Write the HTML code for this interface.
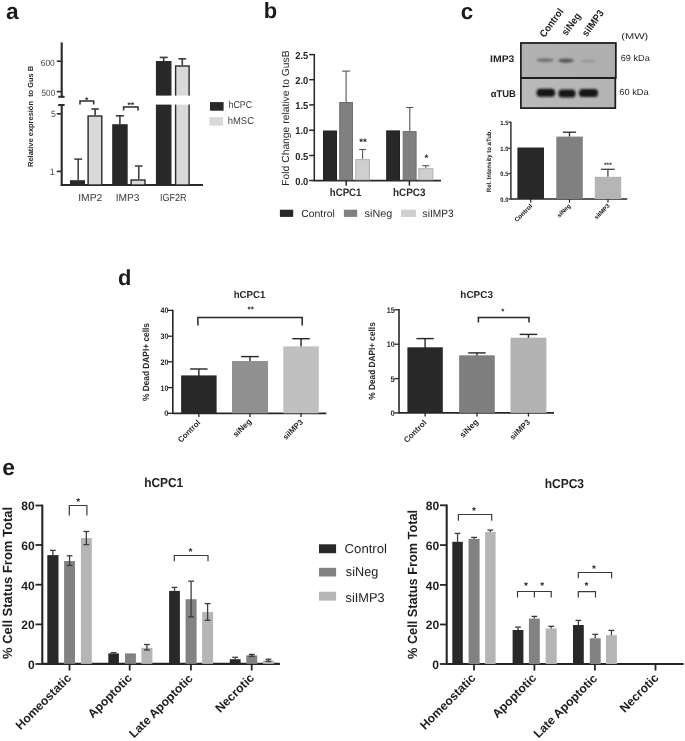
<!DOCTYPE html><html><head><meta charset="utf-8"><title>Figure</title><style>html,body{margin:0;padding:0;background:#fff;}svg{display:block;text-rendering:geometricPrecision;}</style></head><body>
<svg width="685" height="741" viewBox="0 0 685 741">
<rect width="685" height="741" fill="#fff"/>
<text x="5.95" y="19.25" font-family="'Liberation Sans', Arial, sans-serif" font-size="22.73" font-weight="bold" text-anchor="start" fill="#1c1c1c">a</text>
<text x="263.70" y="17.98" font-family="'Liberation Sans', Arial, sans-serif" font-size="21.93" font-weight="bold" text-anchor="start" fill="#1c1c1c">b</text>
<text x="460.65" y="19.35" font-family="'Liberation Sans', Arial, sans-serif" font-size="22.36" font-weight="bold" text-anchor="start" fill="#1c1c1c">c</text>
<text x="117.95" y="284.60" font-family="'Liberation Sans', Arial, sans-serif" font-size="21.87" font-weight="bold" text-anchor="start" fill="#1c1c1c">d</text>
<text x="2.15" y="475.35" font-family="'Liberation Sans', Arial, sans-serif" font-size="22.73" font-weight="bold" text-anchor="start" fill="#1c1c1c">e</text>
<line x1="61.70" y1="42.40" x2="61.70" y2="96.80" stroke="#2a2a2a" stroke-width="2.1"/>
<line x1="58.20" y1="96.80" x2="64.60" y2="96.80" stroke="#2a2a2a" stroke-width="2"/>
<line x1="58.20" y1="105.00" x2="64.60" y2="105.00" stroke="#2a2a2a" stroke-width="2"/>
<line x1="61.70" y1="105.00" x2="61.70" y2="185.60" stroke="#2a2a2a" stroke-width="2.1"/>
<line x1="56.80" y1="61.20" x2="61.70" y2="61.20" stroke="#2a2a2a" stroke-width="1.6"/>
<line x1="56.80" y1="91.60" x2="61.70" y2="91.60" stroke="#2a2a2a" stroke-width="1.6"/>
<line x1="56.80" y1="113.80" x2="61.70" y2="113.80" stroke="#2a2a2a" stroke-width="1.6"/>
<line x1="56.80" y1="171.40" x2="61.70" y2="171.40" stroke="#2a2a2a" stroke-width="1.6"/>
<line x1="60.70" y1="185.10" x2="203.00" y2="185.10" stroke="#2a2a2a" stroke-width="2"/>
<text x="40.80" y="65.85" font-family="'Liberation Sans', Arial, sans-serif" font-size="9.0" text-anchor="start" fill="#4a4a4a" textLength="14.00" lengthAdjust="spacingAndGlyphs">600</text>
<text x="41.60" y="96.05" font-family="'Liberation Sans', Arial, sans-serif" font-size="9.0" text-anchor="start" fill="#4a4a4a" textLength="13.60" lengthAdjust="spacingAndGlyphs">500</text>
<text x="50.90" y="117.40" font-family="'Liberation Sans', Arial, sans-serif" font-size="9.14" text-anchor="start" fill="#4a4a4a" textLength="4.80" lengthAdjust="spacingAndGlyphs">5</text>
<text x="49.70" y="175.45" font-family="'Liberation Sans', Arial, sans-serif" font-size="9.0" text-anchor="start" fill="#4a4a4a" textLength="5.00" lengthAdjust="spacingAndGlyphs">1</text>
<text x="33.20" y="166.95" font-family="'Liberation Sans', Arial, sans-serif" font-size="7.4" font-weight="bold" text-anchor="start" fill="#262626" transform="rotate(-90 33.20 166.95)" textLength="101.20" lengthAdjust="spacingAndGlyphs">Relative expresión&#160; to Gus B</text>
<line x1="78.20" y1="159.10" x2="78.20" y2="180.30" stroke="#3a3a3a" stroke-width="1.5"/>
<line x1="74.30" y1="159.10" x2="82.10" y2="159.10" stroke="#3a3a3a" stroke-width="1.5"/>
<rect x="70.70" y="180.90" width="13.60" height="4.10" fill="#282828" stroke="#2a2a2a" stroke-width="1.4"/>
<line x1="95.10" y1="109.00" x2="95.10" y2="115.30" stroke="#3a3a3a" stroke-width="1.6"/>
<line x1="91.40" y1="109.00" x2="98.80" y2="109.00" stroke="#3a3a3a" stroke-width="1.6"/>
<rect x="88.10" y="116.00" width="13.70" height="69.00" fill="#d9d9d9" stroke="#2a2a2a" stroke-width="1.4"/>
<line x1="119.90" y1="115.80" x2="119.90" y2="124.20" stroke="#3a3a3a" stroke-width="1.6"/>
<line x1="115.90" y1="115.80" x2="123.90" y2="115.80" stroke="#3a3a3a" stroke-width="1.6"/>
<rect x="112.90" y="124.90" width="14.10" height="60.10" fill="#282828" stroke="#2a2a2a" stroke-width="1.4"/>
<line x1="138.80" y1="166.00" x2="138.80" y2="179.30" stroke="#3a3a3a" stroke-width="1.5"/>
<line x1="135.00" y1="166.00" x2="142.60" y2="166.00" stroke="#3a3a3a" stroke-width="1.5"/>
<rect x="131.10" y="180.00" width="13.90" height="5.00" fill="#d9d9d9" stroke="#2a2a2a" stroke-width="1.4"/>
<line x1="163.70" y1="57.40" x2="163.70" y2="61.00" stroke="#3a3a3a" stroke-width="1.6"/>
<line x1="159.70" y1="57.40" x2="167.70" y2="57.40" stroke="#3a3a3a" stroke-width="1.6"/>
<rect x="156.60" y="61.70" width="14.20" height="123.30" fill="#282828" stroke="#2a2a2a" stroke-width="1.4"/>
<line x1="182.30" y1="58.80" x2="182.30" y2="65.30" stroke="#3a3a3a" stroke-width="1.6"/>
<line x1="178.40" y1="58.80" x2="186.20" y2="58.80" stroke="#3a3a3a" stroke-width="1.6"/>
<rect x="175.60" y="66.00" width="13.50" height="119.00" fill="#d9d9d9" stroke="#2a2a2a" stroke-width="1.4"/>
<rect x="150.00" y="95.60" width="45.00" height="9.00" fill="#fff"/>
<polyline points="80.00,104.50 80.00,101.10 93.70,101.10 93.70,104.50" fill="none" stroke="#2a2a2a" stroke-width="1.5"/>
<text x="86.60" y="102.50" font-family="'Liberation Sans', Arial, sans-serif" font-size="8.5" font-weight="bold" text-anchor="middle" fill="#333">*</text>
<polyline points="123.60,110.50 123.60,107.00 138.00,107.00 138.00,110.50" fill="none" stroke="#2a2a2a" stroke-width="1.5"/>
<text x="130.80" y="108.10" font-family="'Liberation Sans', Arial, sans-serif" font-size="8.5" font-weight="bold" text-anchor="middle" fill="#333">**</text>
<text x="78.25" y="201.45" font-family="'Liberation Sans', Arial, sans-serif" font-size="10.14" text-anchor="start" fill="#3a3a3a" textLength="24.00" lengthAdjust="spacingAndGlyphs">IMP2</text>
<text x="115.65" y="201.45" font-family="'Liberation Sans', Arial, sans-serif" font-size="10.14" text-anchor="start" fill="#3a3a3a" textLength="23.80" lengthAdjust="spacingAndGlyphs">IMP3</text>
<text x="160.00" y="201.40" font-family="'Liberation Sans', Arial, sans-serif" font-size="10.29" text-anchor="start" fill="#3a3a3a" textLength="26.60" lengthAdjust="spacingAndGlyphs">IGF2R</text>
<rect x="210.00" y="102.10" width="13.60" height="8.60" fill="#282828"/>
<rect x="209.40" y="117.10" width="13.70" height="8.60" fill="#d9d9d9"/>
<text x="228.55" y="107.55" font-family="'Liberation Sans', Arial, sans-serif" font-size="9.9" text-anchor="start" fill="#3a3a3a" textLength="23.60" lengthAdjust="spacingAndGlyphs">hCPC</text>
<text x="227.75" y="123.50" font-family="'Liberation Sans', Arial, sans-serif" font-size="9.9" text-anchor="start" fill="#3a3a3a" textLength="26.20" lengthAdjust="spacingAndGlyphs">hMSC</text>
<line x1="314.30" y1="54.00" x2="314.30" y2="181.20" stroke="#262626" stroke-width="1.5"/>
<line x1="309.20" y1="54.60" x2="314.30" y2="54.60" stroke="#262626" stroke-width="1.5"/>
<text x="295.30" y="58.75" font-family="'Liberation Sans', Arial, sans-serif" font-size="10.14" font-weight="bold" text-anchor="start" fill="#262626" textLength="13.00" lengthAdjust="spacingAndGlyphs">2.5</text>
<line x1="309.20" y1="79.70" x2="314.30" y2="79.70" stroke="#262626" stroke-width="1.5"/>
<text x="295.30" y="83.85" font-family="'Liberation Sans', Arial, sans-serif" font-size="10.14" font-weight="bold" text-anchor="start" fill="#262626" textLength="13.00" lengthAdjust="spacingAndGlyphs">2.0</text>
<line x1="309.20" y1="104.90" x2="314.30" y2="104.90" stroke="#262626" stroke-width="1.5"/>
<text x="295.30" y="109.05" font-family="'Liberation Sans', Arial, sans-serif" font-size="10.14" font-weight="bold" text-anchor="start" fill="#262626" textLength="13.00" lengthAdjust="spacingAndGlyphs">1.5</text>
<line x1="309.20" y1="130.20" x2="314.30" y2="130.20" stroke="#262626" stroke-width="1.5"/>
<text x="295.30" y="134.35" font-family="'Liberation Sans', Arial, sans-serif" font-size="10.14" font-weight="bold" text-anchor="start" fill="#262626" textLength="13.00" lengthAdjust="spacingAndGlyphs">1.0</text>
<line x1="309.20" y1="155.50" x2="314.30" y2="155.50" stroke="#262626" stroke-width="1.5"/>
<text x="295.30" y="159.65" font-family="'Liberation Sans', Arial, sans-serif" font-size="10.14" font-weight="bold" text-anchor="start" fill="#262626" textLength="13.00" lengthAdjust="spacingAndGlyphs">0.5</text>
<line x1="309.20" y1="180.50" x2="314.30" y2="180.50" stroke="#262626" stroke-width="1.5"/>
<text x="295.30" y="184.65" font-family="'Liberation Sans', Arial, sans-serif" font-size="10.14" font-weight="bold" text-anchor="start" fill="#262626" textLength="13.00" lengthAdjust="spacingAndGlyphs">0.0</text>
<line x1="313.60" y1="180.60" x2="441.00" y2="180.60" stroke="#262626" stroke-width="1.9"/>
<text x="289.15" y="185.75" font-family="'Liberation Sans', Arial, sans-serif" font-size="10.21" text-anchor="start" fill="#262626" transform="rotate(-90 289.15 185.75)" textLength="135.40" lengthAdjust="spacingAndGlyphs">Fold Change relative to GusB</text>
<rect x="323.50" y="131.00" width="13.00" height="48.80" fill="#282828" stroke="#222" stroke-width="1"/>
<line x1="346.10" y1="71.10" x2="346.10" y2="102.00" stroke="#555" stroke-width="1.1"/>
<line x1="342.10" y1="71.10" x2="350.10" y2="71.10" stroke="#555" stroke-width="1.1"/>
<rect x="339.70" y="102.50" width="12.80" height="77.30" fill="#808080" stroke="#6e6e6e" stroke-width="1"/>
<line x1="362.60" y1="149.50" x2="362.60" y2="159.10" stroke="#555" stroke-width="1.1"/>
<line x1="359.10" y1="149.50" x2="366.10" y2="149.50" stroke="#555" stroke-width="1.1"/>
<rect x="355.80" y="159.60" width="13.60" height="20.20" fill="#cfcfcf" stroke="#b0b0b0" stroke-width="1"/>
<text x="362.90" y="144.50" font-family="'Liberation Sans', Arial, sans-serif" font-size="9.5" font-weight="bold" text-anchor="middle" fill="#222">**</text>
<rect x="386.70" y="130.90" width="12.80" height="48.90" fill="#282828" stroke="#222" stroke-width="1"/>
<line x1="409.80" y1="107.50" x2="409.80" y2="131.10" stroke="#555" stroke-width="1.1"/>
<line x1="406.25" y1="107.50" x2="413.35" y2="107.50" stroke="#555" stroke-width="1.1"/>
<rect x="403.20" y="131.60" width="12.90" height="48.20" fill="#808080" stroke="#6e6e6e" stroke-width="1"/>
<line x1="425.80" y1="165.70" x2="425.80" y2="168.20" stroke="#555" stroke-width="1.1"/>
<line x1="422.25" y1="165.70" x2="429.35" y2="165.70" stroke="#555" stroke-width="1.1"/>
<rect x="418.80" y="168.70" width="14.10" height="11.10" fill="#cfcfcf" stroke="#b0b0b0" stroke-width="1"/>
<text x="426.30" y="160.90" font-family="'Liberation Sans', Arial, sans-serif" font-size="9.5" font-weight="bold" text-anchor="middle" fill="#222">*</text>
<line x1="346.20" y1="180.50" x2="346.20" y2="185.70" stroke="#262626" stroke-width="1.5"/>
<line x1="409.40" y1="180.50" x2="409.40" y2="185.70" stroke="#262626" stroke-width="1.5"/>
<text x="329.85" y="196.00" font-family="'Liberation Sans', Arial, sans-serif" font-size="10.93" font-weight="bold" text-anchor="start" fill="#262626" textLength="31.60" lengthAdjust="spacingAndGlyphs">hCPC1</text>
<text x="393.05" y="196.00" font-family="'Liberation Sans', Arial, sans-serif" font-size="10.93" font-weight="bold" text-anchor="start" fill="#262626" textLength="32.40" lengthAdjust="spacingAndGlyphs">hCPC3</text>
<rect x="279.90" y="209.70" width="13.30" height="7.20" fill="#282828"/>
<rect x="343.90" y="209.70" width="13.30" height="7.20" fill="#808080"/>
<rect x="401.00" y="209.70" width="14.90" height="7.20" fill="#cfcfcf"/>
<text x="301.20" y="217.05" font-family="'Liberation Sans', Arial, sans-serif" font-size="10.27" text-anchor="start" fill="#2a2a2a" textLength="33.60" lengthAdjust="spacingAndGlyphs">Control</text>
<text x="364.60" y="217.20" font-family="'Liberation Sans', Arial, sans-serif" font-size="10.7" text-anchor="start" fill="#2a2a2a" textLength="27.60" lengthAdjust="spacingAndGlyphs">siNeg</text>
<text x="422.60" y="217.05" font-family="'Liberation Sans', Arial, sans-serif" font-size="10.7" text-anchor="start" fill="#2a2a2a" textLength="31.00" lengthAdjust="spacingAndGlyphs">siIMP3</text>
<defs><filter id="bl1" x="-30%" y="-100%" width="160%" height="300%"><feGaussianBlur stdDeviation="1.1"/></filter><filter id="bl2" x="-20%" y="-50%" width="140%" height="200%"><feGaussianBlur stdDeviation="0.8"/></filter><linearGradient id="gtop" x1="0" y1="0" x2="1" y2="0"><stop offset="0" stop-color="#b2b2b2"/><stop offset="1" stop-color="#aeaeae"/></linearGradient><linearGradient id="gbot" x1="0" y1="0" x2="1" y2="0"><stop offset="0" stop-color="#bababa"/><stop offset="1" stop-color="#b4b4b4"/></linearGradient></defs>
<rect x="520.10" y="42.20" width="96.50" height="36.00" fill="url(#gtop)"/>
<rect x="520.10" y="78.20" width="96.00" height="30.70" fill="url(#gbot)"/>
<g filter="url(#bl1)">
<ellipse cx="545" cy="60.2" rx="8.5" ry="1.9" fill="#707070"/>
<ellipse cx="566" cy="60.6" rx="7.8" ry="2.1" fill="#555"/>
<ellipse cx="588" cy="61" rx="8" ry="1.4" fill="#969696"/>
</g>
<g filter="url(#bl2)">
<rect x="536.5" y="88.8" width="18.5" height="7.9" rx="3.5" fill="#141414"/>
<rect x="558.5" y="89.6" width="17" height="7.9" rx="3.5" fill="#141414"/>
<rect x="579" y="89" width="19" height="7.9" rx="3.5" fill="#141414"/>
</g>
<rect x="520.90" y="43.00" width="94.90" height="35.00" fill="none" stroke="#1c1c1c" stroke-width="1.7"/>
<rect x="520.90" y="78.00" width="94.40" height="30.10" fill="none" stroke="#1c1c1c" stroke-width="1.7"/>
<text x="490.05" y="62.45" font-family="'Liberation Sans', Arial, sans-serif" font-size="9.57" font-weight="bold" text-anchor="start" fill="#1e1e1e" textLength="24.40" lengthAdjust="spacingAndGlyphs">IMP3</text>
<text x="490.65" y="96.50" font-family="'Liberation Sans', Arial, sans-serif" font-size="9.71" font-weight="bold" text-anchor="start" fill="#1e1e1e" textLength="25.20" lengthAdjust="spacingAndGlyphs">αTUB</text>
<text x="621.25" y="38.65" font-family="'Liberation Sans', Arial, sans-serif" font-size="8.53" text-anchor="start" fill="#262626" textLength="27.00" lengthAdjust="spacingAndGlyphs">(MW)</text>
<text x="620.75" y="61.10" font-family="'Liberation Sans', Arial, sans-serif" font-size="8.8" text-anchor="start" fill="#262626" textLength="29.00" lengthAdjust="spacingAndGlyphs">69 kDa</text>
<text x="619.25" y="95.00" font-family="'Liberation Sans', Arial, sans-serif" font-size="8.8" text-anchor="start" fill="#262626" textLength="29.40" lengthAdjust="spacingAndGlyphs">60 kDa</text>
<text x="544.50" y="38.00" font-family="'Liberation Sans', Arial, sans-serif" font-size="10" font-weight="bold" text-anchor="start" fill="#1e1e1e" transform="rotate(-54 544.50 38.00)" textLength="33.00" lengthAdjust="spacingAndGlyphs">Control</text>
<text x="566.60" y="36.30" font-family="'Liberation Sans', Arial, sans-serif" font-size="10" font-weight="bold" text-anchor="start" fill="#1e1e1e" transform="rotate(-54 566.60 36.30)" textLength="25.00" lengthAdjust="spacingAndGlyphs">siNeg</text>
<text x="586.80" y="37.20" font-family="'Liberation Sans', Arial, sans-serif" font-size="10" font-weight="bold" text-anchor="start" fill="#1e1e1e" transform="rotate(-54 586.80 37.20)" textLength="30.00" lengthAdjust="spacingAndGlyphs">siIMP3</text>
<line x1="510.90" y1="121.80" x2="510.90" y2="199.60" stroke="#262626" stroke-width="1.4"/>
<line x1="508.40" y1="122.20" x2="510.90" y2="122.20" stroke="#262626" stroke-width="1.2"/>
<text x="500.35" y="124.90" font-family="'Liberation Sans', Arial, sans-serif" font-size="6.29" font-weight="bold" text-anchor="start" fill="#111" textLength="8.00" lengthAdjust="spacingAndGlyphs">1.5</text>
<line x1="508.40" y1="148.30" x2="510.90" y2="148.30" stroke="#262626" stroke-width="1.2"/>
<text x="500.35" y="151.00" font-family="'Liberation Sans', Arial, sans-serif" font-size="6.29" font-weight="bold" text-anchor="start" fill="#111" textLength="8.00" lengthAdjust="spacingAndGlyphs">1.0</text>
<line x1="508.40" y1="173.60" x2="510.90" y2="173.60" stroke="#262626" stroke-width="1.2"/>
<text x="500.35" y="176.30" font-family="'Liberation Sans', Arial, sans-serif" font-size="6.29" font-weight="bold" text-anchor="start" fill="#111" textLength="8.00" lengthAdjust="spacingAndGlyphs">0.5</text>
<line x1="508.40" y1="199.00" x2="510.90" y2="199.00" stroke="#262626" stroke-width="1.2"/>
<text x="500.35" y="201.70" font-family="'Liberation Sans', Arial, sans-serif" font-size="6.29" font-weight="bold" text-anchor="start" fill="#111" textLength="8.00" lengthAdjust="spacingAndGlyphs">0.0</text>
<line x1="510.90" y1="199.00" x2="627.20" y2="199.00" stroke="#262626" stroke-width="1.4"/>
<text x="491.00" y="192.15" font-family="'Liberation Sans', Arial, sans-serif" font-size="6.3" font-weight="bold" text-anchor="start" fill="#111" transform="rotate(-90 491.00 192.15)" textLength="62.40" lengthAdjust="spacingAndGlyphs">Rel. Intensity to aTub.</text>
<rect x="517.40" y="147.50" width="26.60" height="51.50" fill="#282828"/>
<line x1="569.50" y1="132.20" x2="569.50" y2="136.60" stroke="#262626" stroke-width="1.3"/>
<line x1="562.90" y1="132.20" x2="576.10" y2="132.20" stroke="#262626" stroke-width="1.3"/>
<rect x="556.30" y="136.60" width="26.50" height="62.40" fill="#808080"/>
<line x1="607.90" y1="169.30" x2="607.90" y2="176.80" stroke="#444" stroke-width="1.3"/>
<line x1="601.05" y1="169.30" x2="614.75" y2="169.30" stroke="#444" stroke-width="1.3"/>
<rect x="594.80" y="176.80" width="26.40" height="22.20" fill="#b5b5b5"/>
<text x="607.90" y="167.10" font-family="'Liberation Sans', Arial, sans-serif" font-size="6.5" font-weight="bold" text-anchor="middle" fill="#333">***</text>
<line x1="530.70" y1="199.00" x2="530.70" y2="202.50" stroke="#262626" stroke-width="1.2"/>
<line x1="569.50" y1="199.00" x2="569.50" y2="202.50" stroke="#262626" stroke-width="1.2"/>
<line x1="608.00" y1="199.00" x2="608.00" y2="202.50" stroke="#262626" stroke-width="1.2"/>
<text x="532.65" y="206.60" font-family="'Liberation Sans', Arial, sans-serif" font-size="6.27" font-weight="bold" text-anchor="end" fill="#111" transform="rotate(-45 532.65 206.60)">Control</text>
<text x="571.10" y="206.30" font-family="'Liberation Sans', Arial, sans-serif" font-size="6.02" font-weight="bold" text-anchor="end" fill="#111" transform="rotate(-45 571.10 206.30)">siNeg</text>
<text x="610.20" y="206.20" font-family="'Liberation Sans', Arial, sans-serif" font-size="6.02" font-weight="bold" text-anchor="end" fill="#111" transform="rotate(-45 610.20 206.20)">siIMP3</text>
<line x1="172.80" y1="309.70" x2="172.80" y2="414.00" stroke="#262626" stroke-width="1.6"/>
<line x1="168.00" y1="310.40" x2="172.80" y2="310.40" stroke="#262626" stroke-width="1.3"/>
<text x="168.50" y="313.40" font-family="'Liberation Sans', Arial, sans-serif" font-size="8" font-weight="bold" text-anchor="end" fill="#262626" textLength="7.90" lengthAdjust="spacingAndGlyphs">40</text>
<line x1="168.00" y1="336.20" x2="172.80" y2="336.20" stroke="#262626" stroke-width="1.3"/>
<text x="168.50" y="339.20" font-family="'Liberation Sans', Arial, sans-serif" font-size="8" font-weight="bold" text-anchor="end" fill="#262626" textLength="7.90" lengthAdjust="spacingAndGlyphs">30</text>
<line x1="168.00" y1="361.80" x2="172.80" y2="361.80" stroke="#262626" stroke-width="1.3"/>
<text x="168.50" y="364.80" font-family="'Liberation Sans', Arial, sans-serif" font-size="8" font-weight="bold" text-anchor="end" fill="#262626" textLength="7.90" lengthAdjust="spacingAndGlyphs">20</text>
<line x1="168.00" y1="387.60" x2="172.80" y2="387.60" stroke="#262626" stroke-width="1.3"/>
<text x="168.50" y="390.60" font-family="'Liberation Sans', Arial, sans-serif" font-size="8" font-weight="bold" text-anchor="end" fill="#262626" textLength="7.90" lengthAdjust="spacingAndGlyphs">10</text>
<line x1="168.00" y1="413.30" x2="172.80" y2="413.30" stroke="#262626" stroke-width="1.3"/>
<text x="168.50" y="416.30" font-family="'Liberation Sans', Arial, sans-serif" font-size="8" font-weight="bold" text-anchor="end" fill="#262626" textLength="4.20" lengthAdjust="spacingAndGlyphs">0</text>
<line x1="172.80" y1="413.30" x2="326.30" y2="413.30" stroke="#262626" stroke-width="1.8"/>
<line x1="198.85" y1="369.00" x2="198.85" y2="376.40" stroke="#262626" stroke-width="1.4"/>
<line x1="190.15" y1="369.00" x2="207.55" y2="369.00" stroke="#262626" stroke-width="1.4"/>
<rect x="181.10" y="375.40" width="35.50" height="37.90" fill="#282828"/>
<line x1="198.85" y1="413.30" x2="198.85" y2="416.90" stroke="#262626" stroke-width="1.3"/>
<line x1="250.00" y1="356.60" x2="250.00" y2="362.00" stroke="#262626" stroke-width="1.4"/>
<line x1="241.18" y1="356.60" x2="258.82" y2="356.60" stroke="#262626" stroke-width="1.4"/>
<rect x="232.00" y="361.00" width="36.00" height="52.30" fill="#919191"/>
<line x1="250.00" y1="413.30" x2="250.00" y2="416.90" stroke="#262626" stroke-width="1.3"/>
<line x1="301.05" y1="338.70" x2="301.05" y2="347.40" stroke="#262626" stroke-width="1.4"/>
<line x1="292.35" y1="338.70" x2="309.75" y2="338.70" stroke="#262626" stroke-width="1.4"/>
<rect x="283.30" y="346.40" width="35.50" height="66.90" fill="#c0c0c0"/>
<line x1="301.05" y1="413.30" x2="301.05" y2="416.90" stroke="#262626" stroke-width="1.3"/>
<text x="233.65" y="298.15" font-family="'Liberation Sans', Arial, sans-serif" font-size="10.1" font-weight="bold" text-anchor="start" fill="#262626" textLength="31.60" lengthAdjust="spacingAndGlyphs">hCPC1</text>
<text x="148.90" y="401.05" font-family="'Liberation Sans', Arial, sans-serif" font-size="9.07" font-weight="bold" text-anchor="start" fill="#262626" transform="rotate(-90 148.90 401.05)" textLength="78.00" lengthAdjust="spacingAndGlyphs">% Dead DAPI+ cells</text>
<polyline points="197.90,325.50 197.90,317.50 302.20,317.50 302.20,325.50" fill="none" stroke="#262626" stroke-width="1.5"/>
<text x="250.70" y="312.20" font-family="'Liberation Sans', Arial, sans-serif" font-size="8" font-weight="bold" text-anchor="middle" fill="#2a2a2a">**</text>
<text x="200.95" y="423.15" font-family="'Liberation Sans', Arial, sans-serif" font-size="7.93" font-weight="bold" text-anchor="end" fill="#262626" transform="rotate(-45 200.95 423.15)">Control</text>
<text x="251.90" y="422.00" font-family="'Liberation Sans', Arial, sans-serif" font-size="8.09" font-weight="bold" text-anchor="end" fill="#262626" transform="rotate(-45 251.90 422.00)">siNeg</text>
<text x="303.60" y="422.60" font-family="'Liberation Sans', Arial, sans-serif" font-size="7.92" font-weight="bold" text-anchor="end" fill="#262626" transform="rotate(-45 303.60 422.60)">siIMP3</text>
<line x1="399.00" y1="309.00" x2="399.00" y2="413.60" stroke="#262626" stroke-width="1.6"/>
<line x1="394.20" y1="309.70" x2="399.00" y2="309.70" stroke="#262626" stroke-width="1.3"/>
<text x="394.70" y="312.70" font-family="'Liberation Sans', Arial, sans-serif" font-size="8" font-weight="bold" text-anchor="end" fill="#262626" textLength="7.90" lengthAdjust="spacingAndGlyphs">15</text>
<line x1="394.20" y1="344.20" x2="399.00" y2="344.20" stroke="#262626" stroke-width="1.3"/>
<text x="394.70" y="347.20" font-family="'Liberation Sans', Arial, sans-serif" font-size="8" font-weight="bold" text-anchor="end" fill="#262626" textLength="7.90" lengthAdjust="spacingAndGlyphs">10</text>
<line x1="394.20" y1="378.60" x2="399.00" y2="378.60" stroke="#262626" stroke-width="1.3"/>
<text x="394.70" y="381.60" font-family="'Liberation Sans', Arial, sans-serif" font-size="8" font-weight="bold" text-anchor="end" fill="#262626" textLength="4.20" lengthAdjust="spacingAndGlyphs">5</text>
<line x1="394.20" y1="412.90" x2="399.00" y2="412.90" stroke="#262626" stroke-width="1.3"/>
<text x="394.70" y="415.90" font-family="'Liberation Sans', Arial, sans-serif" font-size="8" font-weight="bold" text-anchor="end" fill="#262626" textLength="4.20" lengthAdjust="spacingAndGlyphs">0</text>
<line x1="399.00" y1="412.90" x2="554.00" y2="412.90" stroke="#262626" stroke-width="1.8"/>
<line x1="425.10" y1="338.60" x2="425.10" y2="348.30" stroke="#262626" stroke-width="1.4"/>
<line x1="416.43" y1="338.60" x2="433.77" y2="338.60" stroke="#262626" stroke-width="1.4"/>
<rect x="407.40" y="347.30" width="35.40" height="65.60" fill="#282828"/>
<line x1="425.10" y1="412.90" x2="425.10" y2="416.50" stroke="#262626" stroke-width="1.3"/>
<line x1="476.95" y1="352.90" x2="476.95" y2="356.30" stroke="#262626" stroke-width="1.4"/>
<line x1="468.20" y1="352.90" x2="485.70" y2="352.90" stroke="#262626" stroke-width="1.4"/>
<rect x="459.10" y="355.30" width="35.70" height="57.60" fill="#7f7f7f"/>
<line x1="476.95" y1="412.90" x2="476.95" y2="416.50" stroke="#262626" stroke-width="1.3"/>
<line x1="528.45" y1="334.40" x2="528.45" y2="338.70" stroke="#262626" stroke-width="1.4"/>
<line x1="519.65" y1="334.40" x2="537.25" y2="334.40" stroke="#262626" stroke-width="1.4"/>
<rect x="510.50" y="337.70" width="35.90" height="75.20" fill="#b3b3b3"/>
<line x1="528.45" y1="412.90" x2="528.45" y2="416.50" stroke="#262626" stroke-width="1.3"/>
<text x="460.35" y="298.30" font-family="'Liberation Sans', Arial, sans-serif" font-size="10.1" font-weight="bold" text-anchor="start" fill="#262626" textLength="32.60" lengthAdjust="spacingAndGlyphs">hCPC3</text>
<text x="375.10" y="399.65" font-family="'Liberation Sans', Arial, sans-serif" font-size="9.07" font-weight="bold" text-anchor="start" fill="#262626" transform="rotate(-90 375.10 399.65)" textLength="77.40" lengthAdjust="spacingAndGlyphs">% Dead DAPI+ cells</text>
<polyline points="478.40,322.50 478.40,317.40 529.00,317.40 529.00,322.50" fill="none" stroke="#262626" stroke-width="1.5"/>
<text x="502.80" y="314.40" font-family="'Liberation Sans', Arial, sans-serif" font-size="8" font-weight="bold" text-anchor="middle" fill="#2a2a2a">*</text>
<text x="427.15" y="423.15" font-family="'Liberation Sans', Arial, sans-serif" font-size="8.0" font-weight="bold" text-anchor="end" fill="#262626" transform="rotate(-45 427.15 423.15)">Control</text>
<text x="478.80" y="422.50" font-family="'Liberation Sans', Arial, sans-serif" font-size="8.23" font-weight="bold" text-anchor="end" fill="#262626" transform="rotate(-45 478.80 422.50)">siNeg</text>
<text x="530.60" y="422.60" font-family="'Liberation Sans', Arial, sans-serif" font-size="7.92" font-weight="bold" text-anchor="end" fill="#262626" transform="rotate(-45 530.60 422.60)">siIMP3</text>
<line x1="42.30" y1="504.70" x2="42.30" y2="664.70" stroke="#262626" stroke-width="2.1"/>
<line x1="35.50" y1="505.50" x2="42.30" y2="505.50" stroke="#262626" stroke-width="1.8"/>
<text x="34.70" y="510.35" font-family="'Liberation Sans', Arial, sans-serif" font-size="12.14" font-weight="bold" text-anchor="end" fill="#1e1e1e" textLength="13.40" lengthAdjust="spacingAndGlyphs">80</text>
<line x1="35.50" y1="545.00" x2="42.30" y2="545.00" stroke="#262626" stroke-width="1.8"/>
<text x="34.70" y="549.85" font-family="'Liberation Sans', Arial, sans-serif" font-size="12.14" font-weight="bold" text-anchor="end" fill="#1e1e1e" textLength="13.40" lengthAdjust="spacingAndGlyphs">60</text>
<line x1="35.50" y1="584.70" x2="42.30" y2="584.70" stroke="#262626" stroke-width="1.8"/>
<text x="34.70" y="589.55" font-family="'Liberation Sans', Arial, sans-serif" font-size="12.14" font-weight="bold" text-anchor="end" fill="#1e1e1e" textLength="13.40" lengthAdjust="spacingAndGlyphs">40</text>
<line x1="35.50" y1="624.40" x2="42.30" y2="624.40" stroke="#262626" stroke-width="1.8"/>
<text x="34.70" y="629.25" font-family="'Liberation Sans', Arial, sans-serif" font-size="12.14" font-weight="bold" text-anchor="end" fill="#1e1e1e" textLength="13.40" lengthAdjust="spacingAndGlyphs">20</text>
<line x1="35.50" y1="664.00" x2="42.30" y2="664.00" stroke="#262626" stroke-width="1.8"/>
<text x="34.70" y="668.85" font-family="'Liberation Sans', Arial, sans-serif" font-size="12.14" font-weight="bold" text-anchor="end" fill="#1e1e1e">0</text>
<line x1="42.30" y1="663.90" x2="279.90" y2="663.90" stroke="#262626" stroke-width="2.1"/>
<rect x="47.30" y="555.10" width="11.20" height="108.80" fill="#282828"/>
<line x1="52.90" y1="550.40" x2="52.90" y2="555.10" stroke="#3c3c3c" stroke-width="1.3"/>
<line x1="50.00" y1="550.40" x2="55.80" y2="550.40" stroke="#3c3c3c" stroke-width="1.3"/>
<rect x="64.10" y="561.00" width="10.90" height="102.90" fill="#828282"/>
<line x1="69.55" y1="555.80" x2="69.55" y2="565.50" stroke="#3c3c3c" stroke-width="1.3"/>
<line x1="66.65" y1="555.80" x2="72.45" y2="555.80" stroke="#3c3c3c" stroke-width="1.3"/>
<line x1="66.65" y1="565.50" x2="72.45" y2="565.50" stroke="#3c3c3c" stroke-width="1.3"/>
<rect x="80.90" y="538.00" width="10.90" height="125.90" fill="#b5b5b5"/>
<line x1="86.35" y1="531.50" x2="86.35" y2="544.60" stroke="#3c3c3c" stroke-width="1.3"/>
<line x1="83.45" y1="531.50" x2="89.25" y2="531.50" stroke="#3c3c3c" stroke-width="1.3"/>
<line x1="83.45" y1="544.60" x2="89.25" y2="544.60" stroke="#3c3c3c" stroke-width="1.3"/>
<rect x="108.30" y="653.40" width="10.60" height="10.50" fill="#282828"/>
<line x1="113.60" y1="652.60" x2="113.60" y2="653.40" stroke="#3c3c3c" stroke-width="1.3"/>
<line x1="110.70" y1="652.60" x2="116.50" y2="652.60" stroke="#3c3c3c" stroke-width="1.3"/>
<rect x="125.00" y="653.40" width="10.90" height="10.50" fill="#828282"/>
<rect x="141.40" y="647.80" width="11.00" height="16.10" fill="#b5b5b5"/>
<line x1="146.90" y1="644.50" x2="146.90" y2="650.00" stroke="#3c3c3c" stroke-width="1.3"/>
<line x1="144.00" y1="644.50" x2="149.80" y2="644.50" stroke="#3c3c3c" stroke-width="1.3"/>
<line x1="144.00" y1="650.00" x2="149.80" y2="650.00" stroke="#3c3c3c" stroke-width="1.3"/>
<rect x="169.10" y="590.90" width="10.80" height="73.00" fill="#282828"/>
<line x1="174.50" y1="587.40" x2="174.50" y2="590.90" stroke="#3c3c3c" stroke-width="1.3"/>
<line x1="171.60" y1="587.40" x2="177.40" y2="587.40" stroke="#3c3c3c" stroke-width="1.3"/>
<rect x="185.60" y="599.20" width="11.00" height="64.70" fill="#828282"/>
<line x1="191.10" y1="581.20" x2="191.10" y2="616.90" stroke="#3c3c3c" stroke-width="1.3"/>
<line x1="188.20" y1="581.20" x2="194.00" y2="581.20" stroke="#3c3c3c" stroke-width="1.3"/>
<line x1="188.20" y1="616.90" x2="194.00" y2="616.90" stroke="#3c3c3c" stroke-width="1.3"/>
<rect x="202.10" y="612.10" width="11.00" height="51.80" fill="#b5b5b5"/>
<line x1="207.60" y1="603.60" x2="207.60" y2="620.30" stroke="#3c3c3c" stroke-width="1.3"/>
<line x1="204.70" y1="603.60" x2="210.50" y2="603.60" stroke="#3c3c3c" stroke-width="1.3"/>
<line x1="204.70" y1="620.30" x2="210.50" y2="620.30" stroke="#3c3c3c" stroke-width="1.3"/>
<rect x="229.80" y="659.20" width="10.80" height="4.70" fill="#282828"/>
<line x1="235.20" y1="657.30" x2="235.20" y2="659.20" stroke="#3c3c3c" stroke-width="1.3"/>
<line x1="232.30" y1="657.30" x2="238.10" y2="657.30" stroke="#3c3c3c" stroke-width="1.3"/>
<rect x="246.30" y="655.40" width="10.90" height="8.50" fill="#828282"/>
<line x1="251.75" y1="654.40" x2="251.75" y2="656.30" stroke="#3c3c3c" stroke-width="1.3"/>
<line x1="248.85" y1="654.40" x2="254.65" y2="654.40" stroke="#3c3c3c" stroke-width="1.3"/>
<line x1="248.85" y1="656.30" x2="254.65" y2="656.30" stroke="#3c3c3c" stroke-width="1.3"/>
<rect x="263.00" y="660.50" width="10.90" height="3.40" fill="#b5b5b5"/>
<line x1="268.45" y1="659.20" x2="268.45" y2="661.40" stroke="#3c3c3c" stroke-width="1.3"/>
<line x1="265.55" y1="659.20" x2="271.35" y2="659.20" stroke="#3c3c3c" stroke-width="1.3"/>
<line x1="265.55" y1="661.40" x2="271.35" y2="661.40" stroke="#3c3c3c" stroke-width="1.3"/>
<line x1="69.50" y1="663.90" x2="69.50" y2="670.50" stroke="#262626" stroke-width="1.8"/>
<line x1="129.70" y1="663.90" x2="129.70" y2="670.50" stroke="#262626" stroke-width="1.8"/>
<line x1="190.90" y1="663.90" x2="190.90" y2="670.50" stroke="#262626" stroke-width="1.8"/>
<line x1="251.70" y1="663.90" x2="251.70" y2="670.50" stroke="#262626" stroke-width="1.8"/>
<text x="144.20" y="487.30" font-family="'Liberation Sans', Arial, sans-serif" font-size="13.0" font-weight="bold" text-anchor="start" fill="#1e1e1e" textLength="39.00" lengthAdjust="spacingAndGlyphs">hCPC1</text>
<text x="11.75" y="658.95" font-family="'Liberation Sans', Arial, sans-serif" font-size="13.3" font-weight="bold" text-anchor="start" fill="#1e1e1e" transform="rotate(-90 11.75 658.95)" textLength="152.00" lengthAdjust="spacingAndGlyphs">% Cell Status From Total</text>
<polyline points="69.30,515.50 69.30,505.50 86.90,505.50 86.90,515.50" fill="none" stroke="#3a3a3a" stroke-width="1.2"/>
<text x="78.10" y="505.30" font-family="'Liberation Sans', Arial, sans-serif" font-size="10" font-weight="bold" text-anchor="middle" fill="#222">*</text>
<polyline points="174.30,561.30 174.30,555.50 208.00,555.50 208.00,561.30" fill="none" stroke="#3a3a3a" stroke-width="1.2"/>
<text x="190.40" y="554.70" font-family="'Liberation Sans', Arial, sans-serif" font-size="10" font-weight="bold" text-anchor="middle" fill="#222">*</text>
<text x="71.95" y="678.75" font-family="'Liberation Sans', Arial, sans-serif" font-size="12.13" font-weight="bold" text-anchor="end" fill="#1e1e1e" transform="rotate(-45 71.95 678.75)">Homeostatic</text>
<text x="132.70" y="678.80" font-family="'Liberation Sans', Arial, sans-serif" font-size="12.11" font-weight="bold" text-anchor="end" fill="#1e1e1e" transform="rotate(-45 132.70 678.80)">Apoptotic</text>
<text x="193.55" y="679.15" font-family="'Liberation Sans', Arial, sans-serif" font-size="12.08" font-weight="bold" text-anchor="end" fill="#1e1e1e" transform="rotate(-45 193.55 679.15)">Late Apoptotic</text>
<text x="254.90" y="678.60" font-family="'Liberation Sans', Arial, sans-serif" font-size="12.23" font-weight="bold" text-anchor="end" fill="#1e1e1e" transform="rotate(-45 254.90 678.60)">Necrotic</text>
<line x1="446.70" y1="504.50" x2="446.70" y2="664.80" stroke="#262626" stroke-width="2.1"/>
<line x1="439.90" y1="505.30" x2="446.70" y2="505.30" stroke="#262626" stroke-width="1.8"/>
<text x="439.10" y="510.15" font-family="'Liberation Sans', Arial, sans-serif" font-size="12.14" font-weight="bold" text-anchor="end" fill="#1e1e1e" textLength="13.40" lengthAdjust="spacingAndGlyphs">80</text>
<line x1="439.90" y1="545.10" x2="446.70" y2="545.10" stroke="#262626" stroke-width="1.8"/>
<text x="439.10" y="549.95" font-family="'Liberation Sans', Arial, sans-serif" font-size="12.14" font-weight="bold" text-anchor="end" fill="#1e1e1e" textLength="13.40" lengthAdjust="spacingAndGlyphs">60</text>
<line x1="439.90" y1="584.90" x2="446.70" y2="584.90" stroke="#262626" stroke-width="1.8"/>
<text x="439.10" y="589.75" font-family="'Liberation Sans', Arial, sans-serif" font-size="12.14" font-weight="bold" text-anchor="end" fill="#1e1e1e" textLength="13.40" lengthAdjust="spacingAndGlyphs">40</text>
<line x1="439.90" y1="624.50" x2="446.70" y2="624.50" stroke="#262626" stroke-width="1.8"/>
<text x="439.10" y="629.35" font-family="'Liberation Sans', Arial, sans-serif" font-size="12.14" font-weight="bold" text-anchor="end" fill="#1e1e1e" textLength="13.40" lengthAdjust="spacingAndGlyphs">20</text>
<line x1="439.90" y1="664.00" x2="446.70" y2="664.00" stroke="#262626" stroke-width="1.8"/>
<text x="439.10" y="668.85" font-family="'Liberation Sans', Arial, sans-serif" font-size="12.14" font-weight="bold" text-anchor="end" fill="#1e1e1e">0</text>
<line x1="446.70" y1="664.00" x2="683.60" y2="664.00" stroke="#262626" stroke-width="2.1"/>
<rect x="452.30" y="541.80" width="10.50" height="122.20" fill="#282828"/>
<line x1="457.55" y1="533.40" x2="457.55" y2="541.80" stroke="#3c3c3c" stroke-width="1.3"/>
<line x1="454.65" y1="533.40" x2="460.45" y2="533.40" stroke="#3c3c3c" stroke-width="1.3"/>
<rect x="468.60" y="538.90" width="11.00" height="125.10" fill="#828282"/>
<line x1="474.10" y1="537.40" x2="474.10" y2="538.90" stroke="#3c3c3c" stroke-width="1.3"/>
<line x1="471.20" y1="537.40" x2="477.00" y2="537.40" stroke="#3c3c3c" stroke-width="1.3"/>
<rect x="485.10" y="532.00" width="10.50" height="132.00" fill="#b5b5b5"/>
<line x1="490.35" y1="530.10" x2="490.35" y2="532.00" stroke="#3c3c3c" stroke-width="1.3"/>
<line x1="487.45" y1="530.10" x2="493.25" y2="530.10" stroke="#3c3c3c" stroke-width="1.3"/>
<rect x="512.60" y="630.00" width="10.80" height="34.00" fill="#282828"/>
<line x1="518.00" y1="627.10" x2="518.00" y2="630.00" stroke="#3c3c3c" stroke-width="1.3"/>
<line x1="515.10" y1="627.10" x2="520.90" y2="627.10" stroke="#3c3c3c" stroke-width="1.3"/>
<rect x="528.90" y="618.60" width="10.90" height="45.40" fill="#828282"/>
<line x1="534.35" y1="616.40" x2="534.35" y2="618.60" stroke="#3c3c3c" stroke-width="1.3"/>
<line x1="531.45" y1="616.40" x2="537.25" y2="616.40" stroke="#3c3c3c" stroke-width="1.3"/>
<rect x="545.70" y="628.50" width="11.00" height="35.50" fill="#b5b5b5"/>
<line x1="551.20" y1="626.30" x2="551.20" y2="628.50" stroke="#3c3c3c" stroke-width="1.3"/>
<line x1="548.30" y1="626.30" x2="554.10" y2="626.30" stroke="#3c3c3c" stroke-width="1.3"/>
<rect x="573.00" y="625.00" width="10.80" height="39.00" fill="#282828"/>
<line x1="578.40" y1="620.40" x2="578.40" y2="625.00" stroke="#3c3c3c" stroke-width="1.3"/>
<line x1="575.50" y1="620.40" x2="581.30" y2="620.40" stroke="#3c3c3c" stroke-width="1.3"/>
<rect x="589.80" y="638.30" width="10.90" height="25.70" fill="#828282"/>
<line x1="595.25" y1="634.30" x2="595.25" y2="638.30" stroke="#3c3c3c" stroke-width="1.3"/>
<line x1="592.35" y1="634.30" x2="598.15" y2="634.30" stroke="#3c3c3c" stroke-width="1.3"/>
<rect x="606.00" y="635.20" width="10.90" height="28.80" fill="#b5b5b5"/>
<line x1="611.45" y1="630.40" x2="611.45" y2="635.20" stroke="#3c3c3c" stroke-width="1.3"/>
<line x1="608.55" y1="630.40" x2="614.35" y2="630.40" stroke="#3c3c3c" stroke-width="1.3"/>
<rect x="636.20" y="663.20" width="5.60" height="0.80" fill="#282828"/>
<line x1="474.00" y1="664.00" x2="474.00" y2="670.60" stroke="#262626" stroke-width="1.8"/>
<line x1="534.40" y1="664.00" x2="534.40" y2="670.60" stroke="#262626" stroke-width="1.8"/>
<line x1="594.90" y1="664.00" x2="594.90" y2="670.60" stroke="#262626" stroke-width="1.8"/>
<line x1="655.50" y1="664.00" x2="655.50" y2="670.60" stroke="#262626" stroke-width="1.8"/>
<text x="544.65" y="488.25" font-family="'Liberation Sans', Arial, sans-serif" font-size="13.0" font-weight="bold" text-anchor="start" fill="#1e1e1e" textLength="39.40" lengthAdjust="spacingAndGlyphs">hCPC3</text>
<text x="416.65" y="658.95" font-family="'Liberation Sans', Arial, sans-serif" font-size="13.3" font-weight="bold" text-anchor="start" fill="#1e1e1e" transform="rotate(-90 416.65 658.95)" textLength="149.00" lengthAdjust="spacingAndGlyphs">% Cell Status From Total</text>
<polyline points="458.40,520.70 458.40,514.50 491.70,514.50 491.70,520.70" fill="none" stroke="#3a3a3a" stroke-width="1.2"/>
<text x="474.00" y="514.20" font-family="'Liberation Sans', Arial, sans-serif" font-size="10" font-weight="bold" text-anchor="middle" fill="#222">*</text>
<polyline points="517.50,597.50 517.50,591.50 551.20,591.50 551.20,597.50" fill="none" stroke="#3a3a3a" stroke-width="1.2"/>
<text x="526.00" y="589.40" font-family="'Liberation Sans', Arial, sans-serif" font-size="10" font-weight="bold" text-anchor="middle" fill="#222">*</text>
<text x="542.30" y="589.40" font-family="'Liberation Sans', Arial, sans-serif" font-size="10" font-weight="bold" text-anchor="middle" fill="#222">*</text>
<polyline points="534.40,591.50 534.40,597.50" fill="none" stroke="#3a3a3a" stroke-width="1.2"/>
<polyline points="578.30,597.40 578.30,591.60 595.50,591.60 595.50,597.40" fill="none" stroke="#3a3a3a" stroke-width="1.2"/>
<text x="586.50" y="589.40" font-family="'Liberation Sans', Arial, sans-serif" font-size="10" font-weight="bold" text-anchor="middle" fill="#222">*</text>
<polyline points="578.30,578.30 578.30,572.50 611.60,572.50 611.60,578.30" fill="none" stroke="#3a3a3a" stroke-width="1.2"/>
<text x="593.90" y="571.60" font-family="'Liberation Sans', Arial, sans-serif" font-size="10" font-weight="bold" text-anchor="middle" fill="#222">*</text>
<text x="476.35" y="678.75" font-family="'Liberation Sans', Arial, sans-serif" font-size="12.13" font-weight="bold" text-anchor="end" fill="#1e1e1e" transform="rotate(-45 476.35 678.75)">Homeostatic</text>
<text x="537.10" y="678.80" font-family="'Liberation Sans', Arial, sans-serif" font-size="12.11" font-weight="bold" text-anchor="end" fill="#1e1e1e" transform="rotate(-45 537.10 678.80)">Apoptotic</text>
<text x="597.95" y="679.15" font-family="'Liberation Sans', Arial, sans-serif" font-size="12.08" font-weight="bold" text-anchor="end" fill="#1e1e1e" transform="rotate(-45 597.95 679.15)">Late Apoptotic</text>
<text x="659.30" y="678.60" font-family="'Liberation Sans', Arial, sans-serif" font-size="12.23" font-weight="bold" text-anchor="end" fill="#1e1e1e" transform="rotate(-45 659.30 678.60)">Necrotic</text>
<rect x="319.00" y="544.30" width="17.10" height="8.90" fill="#282828"/>
<rect x="319.00" y="567.80" width="17.10" height="8.70" fill="#828282"/>
<rect x="319.00" y="591.70" width="17.10" height="8.90" fill="#b5b5b5"/>
<text x="344.60" y="553.35" font-family="'Liberation Sans', Arial, sans-serif" font-size="12.9" text-anchor="start" fill="#1e1e1e" textLength="42.40" lengthAdjust="spacingAndGlyphs">Control</text>
<text x="345.85" y="576.40" font-family="'Liberation Sans', Arial, sans-serif" font-size="12.9" text-anchor="start" fill="#1e1e1e" textLength="32.40" lengthAdjust="spacingAndGlyphs">siNeg</text>
<text x="345.55" y="601.70" font-family="'Liberation Sans', Arial, sans-serif" font-size="12.9" text-anchor="start" fill="#1e1e1e" textLength="39.00" lengthAdjust="spacingAndGlyphs">siIMP3</text>
</svg></body></html>
